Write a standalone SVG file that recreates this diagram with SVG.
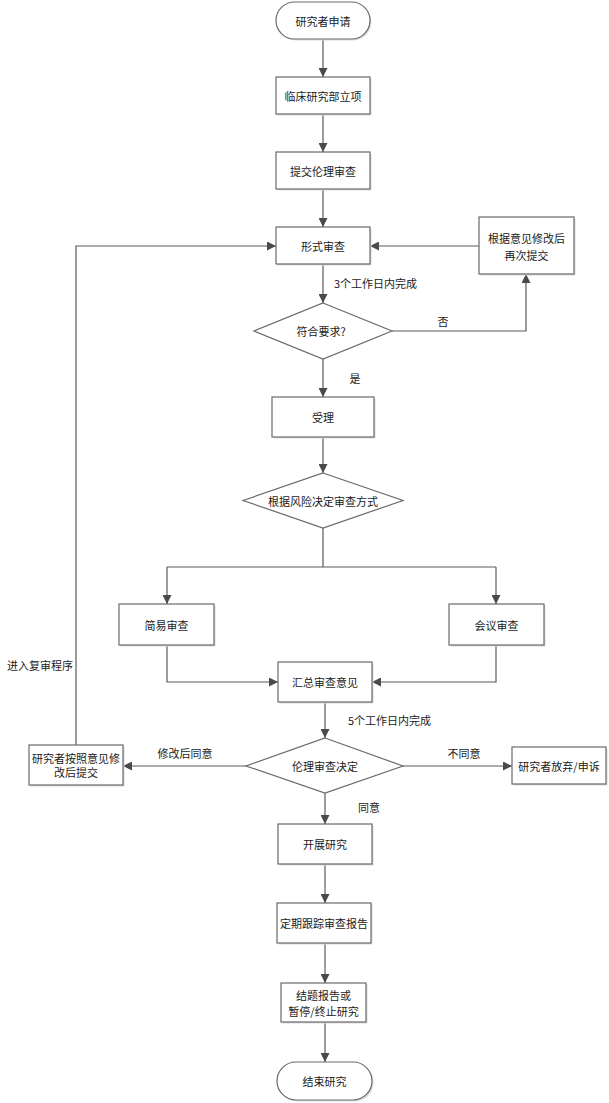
<svg xmlns="http://www.w3.org/2000/svg" width="609" height="1103" viewBox="0 0 609 1103">
<defs>
<marker id="arr" viewBox="0 0 10 10" refX="10" refY="5" markerWidth="9" markerHeight="9" markerUnits="userSpaceOnUse" orient="auto">
<path d="M0,0 L10,5 L0,10 Z" fill="#4a4a4a"/>
</marker>
</defs>
<style>
.box{fill:#fff;stroke:#6a6a6a;stroke-width:1.2}
.sh{fill:#dcdcdc}
.t{font-family:"Noto Sans CJK SC","Liberation Sans",sans-serif;font-size:11px;fill:#1a1a1a;text-anchor:middle;dominant-baseline:central}
.lbl{font-family:"Noto Sans CJK SC","Liberation Sans",sans-serif;font-size:11px;fill:#1a1a1a;dominant-baseline:central}
.c{fill:none;stroke:#5a5a5a;stroke-width:1.2;marker-end:url(#arr)}
.cn{fill:none;stroke:#5a5a5a;stroke-width:1.2}
</style>
<rect width="609" height="1103" fill="#fff"/>

<g id="connectors">
<path class="c" d="M323,39 V77"/>
<path class="c" d="M323,114 V152"/>
<path class="c" d="M323,189 V227"/>
<path class="c" d="M323,264 V303"/>
<path class="c" d="M392,331 H526 V274"/>
<path class="c" d="M479,246 H370"/>
<path class="c" d="M323,359 V397"/>
<path class="c" d="M323,437 V473"/>
<path class="cn" d="M323,528 V567 M167,567 H496"/>
<path class="c" d="M167,567 V604"/>
<path class="c" d="M496,567 V604"/>
<path class="c" d="M167,645 V682 H278"/>
<path class="c" d="M496,645 V682 H372"/>
<path class="c" d="M325,702 V738"/>
<path class="c" d="M246,766 H123"/>
<path class="c" d="M403,766 H512"/>
<path class="c" d="M76,745 V246 H276"/>
<path class="c" d="M325,793 V824"/>
<path class="c" d="M325,864 V903"/>
<path class="c" d="M325,943 V983"/>
<path class="c" d="M325,1022 V1062"/>
<text class="lbl" x="334" y="283">3个工作日内完成</text>
<text class="t" x="443" y="321">否</text>
<text class="t" x="355" y="378">是</text>
<text class="lbl" x="348" y="720">5个工作日内完成</text>
<text class="t" x="185" y="753">修改后同意</text>
<text class="t" x="464" y="753">不同意</text>
<text class="t" x="369" y="807">同意</text>
<text class="lbl" x="7" y="665">进入复审程序</text>
</g>

<g id="start">
<rect class="sh" x="277.5" y="3.5" width="94" height="37" rx="18.5"/>
<rect class="box" x="276" y="2" width="94" height="37" rx="18.5"/>
<text class="t" x="323" y="20.5">研究者申请</text>
</g>
<g id="lixiang">
<rect class="sh" x="277.5" y="78.5" width="94" height="37"/>
<rect class="box" x="276" y="77" width="94" height="37"/>
<text class="t" x="323" y="95.5">临床研究部立项</text>
</g>
<g id="tijiao">
<rect class="sh" x="277.5" y="153.5" width="94" height="37"/>
<rect class="box" x="276" y="152" width="94" height="37"/>
<text class="t" x="323" y="170.5">提交伦理审查</text>
</g>
<g id="xingshi">
<rect class="sh" x="277.5" y="228.5" width="94" height="37"/>
<rect class="box" x="276" y="227" width="94" height="37"/>
<text class="t" x="323" y="245.5">形式审查</text>
</g>
<g id="xiugai">
<rect class="sh" x="480.5" y="218.5" width="95" height="57"/>
<rect class="box" x="479" y="217" width="95" height="57"/>
<text class="t" x="526.5" y="238">根据意见修改后</text>
<text class="t" x="526.5" y="255">再次提交</text>
</g>
<g id="fuhe">
<path class="box" d="M323,303 L392,331 L323,359 L254,331 Z"/>
<text class="t" x="321" y="331">符合要求?</text>
</g>
<g id="shouli">
<rect class="sh" x="273.5" y="398.5" width="102" height="40"/>
<rect class="box" x="272" y="397" width="102" height="40"/>
<text class="t" x="323" y="417">受理</text>
</g>
<g id="fengxian">
<path class="box" d="M323,473 L403,500.5 L323,528 L243,500.5 Z"/>
<text class="t" x="323" y="500.5">根据风险决定审查方式</text>
</g>
<g id="jianyi">
<rect class="sh" x="120.5" y="605.5" width="95" height="41"/>
<rect class="box" x="119" y="604" width="95" height="41"/>
<text class="t" x="166.5" y="624.5">简易审查</text>
</g>
<g id="huiyi">
<rect class="sh" x="450.5" y="605.5" width="95" height="41"/>
<rect class="box" x="449" y="604" width="95" height="41"/>
<text class="t" x="496.5" y="624.5">会议审查</text>
</g>
<g id="huizong">
<rect class="sh" x="279.5" y="663.5" width="94" height="40"/>
<rect class="box" x="278" y="662" width="94" height="40"/>
<text class="t" x="325" y="682">汇总审查意见</text>
</g>
<g id="jueding">
<path class="box" d="M325,738 L403,766 L325,793 L246,766 Z"/>
<text class="t" x="325" y="766">伦理审查决定</text>
</g>
<g id="anzhao">
<rect class="sh" x="30.5" y="746.5" width="94" height="40"/>
<rect class="box" x="29" y="745" width="94" height="40"/>
<text class="t" x="76" y="758">研究者按照意见修</text>
<text class="t" x="76" y="772">改后提交</text>
</g>
<g id="fangqi">
<rect class="sh" x="513.5" y="748.5" width="94" height="37"/>
<rect class="box" x="512" y="747" width="94" height="37"/>
<text class="t" x="559" y="765.5">研究者放弃/申诉</text>
</g>
<g id="kaizhan">
<rect class="sh" x="279.5" y="825.5" width="94" height="40"/>
<rect class="box" x="278" y="824" width="94" height="40"/>
<text class="t" x="325" y="844">开展研究</text>
</g>
<g id="genzong">
<rect class="sh" x="278.5" y="904.5" width="94" height="40"/>
<rect class="box" x="277" y="903" width="94" height="40"/>
<text class="t" x="324" y="923">定期跟踪审查报告</text>
</g>
<g id="jieti">
<rect class="sh" x="282.5" y="984.5" width="85" height="39"/>
<rect class="box" x="281" y="983" width="85" height="39"/>
<text class="t" x="323.5" y="995">结题报告或</text>
<text class="t" x="323.5" y="1011">暂停/终止研究</text>
</g>
<g id="end">
<rect class="sh" x="278.5" y="1063.5" width="95" height="38" rx="19"/>
<rect class="box" x="277" y="1062" width="95" height="38" rx="19"/>
<text class="t" x="324.5" y="1081">结束研究</text>
</g>
</svg>
